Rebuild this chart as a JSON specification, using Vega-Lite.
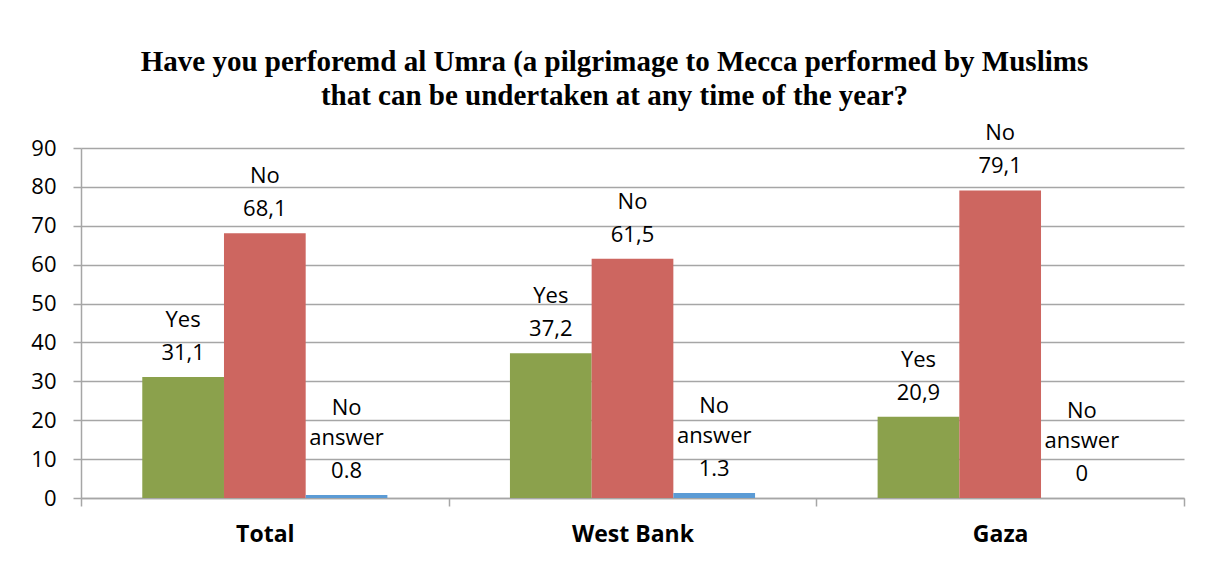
{
  "$schema": "https://vega.github.io/schema/vega-lite/v6.json",
  "width": 1103,
  "height": 350,
  "autosize": {"type": "none"},
  "padding": {"left": 81, "top": 148, "right": 34, "bottom": 63},
  "background": "white",
  "title": {
    "text": ["Have you perforemd al Umra (a pilgrimage to Mecca performed by Muslims", "that can be undertaken at any time of the year?"],
    "font": "Liberation Serif",
    "fontSize": 29,
    "fontWeight": "bold",
    "color": "#000000",
    "anchor": "middle",
    "dx": -18,
    "offset": -19,
    "lineHeight": 34
  },
  "data": {
    "values": [
      {"group": "Total", "answer": "Yes", "value": 31.1, "l1": "", "l2": "Yes", "l3": "31,1"},
      {"group": "Total", "answer": "No", "value": 68.1, "l1": "", "l2": "No", "l3": "68,1"},
      {"group": "Total", "answer": "No answer", "value": 0.8, "l1": "No", "l2": "answer", "l3": "0.8"},
      {"group": "West Bank", "answer": "Yes", "value": 37.2, "l1": "", "l2": "Yes", "l3": "37,2"},
      {"group": "West Bank", "answer": "No", "value": 61.5, "l1": "", "l2": "No", "l3": "61,5"},
      {"group": "West Bank", "answer": "No answer", "value": 1.3, "l1": "No", "l2": "answer", "l3": "1.3"},
      {"group": "Gaza", "answer": "Yes", "value": 20.9, "l1": "", "l2": "Yes", "l3": "20,9"},
      {"group": "Gaza", "answer": "No", "value": 79.1, "l1": "", "l2": "No", "l3": "79,1"},
      {"group": "Gaza", "answer": "No answer", "value": 0, "l1": "No", "l2": "answer", "l3": "0"}
    ]
  },
  "encoding": {
    "x": {
      "field": "group",
      "type": "nominal",
      "sort": ["Total", "West Bank", "Gaza"],
      "scale": {"paddingInner": 0, "paddingOuter": 0},
      "axis": {
        "title": null,
        "labelAngle": 0,
        "labelFont": "Open Sans",
        "labelFontSize": 23,
        "labelFontWeight": "bold",
        "labelColor": "#000000",
        "labelPadding": 17,
        "tickBand": "extent",
        "tickSize": 8,
        "tickColor": "#A6A6A6",
        "tickWidth": 1.5,
        "domainColor": "#A6A6A6",
        "domainWidth": 1.5
      }
    },
    "xOffset": {
      "field": "answer",
      "type": "nominal",
      "sort": ["Yes", "No", "No answer"],
      "scale": {"paddingInner": 0, "paddingOuter": 0.75}
    },
    "y": {
      "field": "value",
      "type": "quantitative",
      "scale": {"domain": [0, 90]},
      "axis": {
        "title": null,
        "values": [0, 10, 20, 30, 40, 50, 60, 70, 80, 90],
        "grid": true,
        "gridColor": "#A6A6A6",
        "gridWidth": 1.5,
        "tickSize": 8,
        "tickColor": "#A6A6A6",
        "tickWidth": 1.5,
        "domainColor": "#A6A6A6",
        "domainWidth": 1.5,
        "labelFont": "Open Sans",
        "labelFontSize": 22,
        "labelColor": "#000000",
        "labelPadding": 17
      }
    }
  },
  "layer": [
    {
      "mark": {"type": "bar"},
      "encoding": {
        "color": {
          "field": "answer",
          "type": "nominal",
          "scale": {"domain": ["Yes", "No", "No answer"], "range": ["#8BA14C", "#CD6660", "#5B9BD5"]},
          "legend": null
        }
      }
    },
    {
      "mark": {"type": "text", "baseline": "bottom", "align": "center", "dy": -12, "font": "Open Sans", "fontSize": 22, "color": "#000000"},
      "encoding": {"text": {"field": "l3", "type": "nominal"}}
    },
    {
      "mark": {"type": "text", "baseline": "bottom", "align": "center", "dy": -45, "font": "Open Sans", "fontSize": 22, "color": "#000000"},
      "encoding": {"text": {"field": "l2", "type": "nominal"}}
    },
    {
      "mark": {"type": "text", "baseline": "bottom", "align": "center", "dy": -75, "font": "Open Sans", "fontSize": 22, "color": "#000000"},
      "encoding": {"text": {"field": "l1", "type": "nominal"}}
    }
  ],
  "config": {"view": {"stroke": null}}
}
